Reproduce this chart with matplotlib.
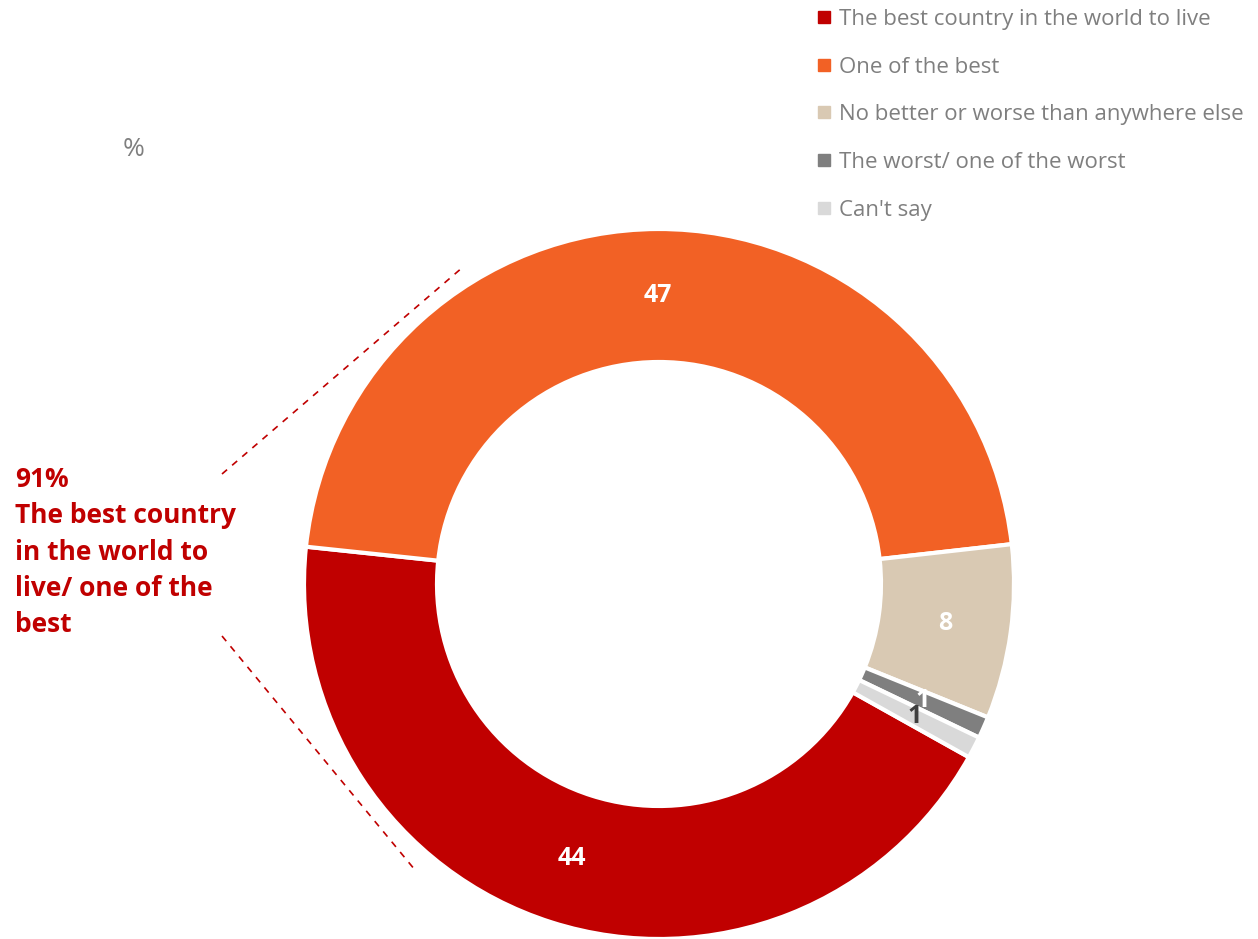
import numpy as np
import matplotlib
matplotlib.use('Agg')
import matplotlib.pyplot as plt

plt.rcParams['font.family'] = ['Open Sans', 'DejaVu Sans']

# Data
categories = [
    'The best country in the world to live',
    'One of the best',
    'No better or worse than anywhere else',
    'The worst/ one of the worst',
    "Can't say",
]
values = [44, 47, 8, 1, 1]
colors = ['#C00000', '#F26125', '#D9C9B3', '#7F7F7F', '#D9D9D9']
label_colors = ['white', 'white', 'white', 'white', '#404040']

W, H = 1258, 939
fig = plt.figure(figsize=(W / 100, H / 100), dpi=100)
ax = fig.add_axes([0, 0, 1, 1])

cx, cy, r_out = 659, H - 584, 355
width = 133

wedges, _ = ax.pie(
    values, colors=colors, startangle=-29.2, counterclock=False,
    radius=r_out, center=(cx, cy),
    wedgeprops=dict(width=width, edgecolor='white', linewidth=3),
    frame=True,
)
ax.set_xlim(0, W)
ax.set_ylim(0, H)
ax.axis('off')

# Value labels at the middle of each ring segment
r_mid = r_out - width / 2
for w, v, lc in zip(wedges, values, label_colors):
    ang = np.deg2rad((w.theta1 + w.theta2) / 2)
    ax.text(cx + r_mid * np.cos(ang), cy + r_mid * np.sin(ang), str(v),
            ha='center', va='center', color=lc, fontsize=18, fontweight='bold')

# Legend
handles = [plt.Line2D([], [], marker='s', linestyle='', markersize=8,
                      markerfacecolor=c, markeredgecolor=c) for c in colors]
fig.legend(handles, categories, loc='upper left', bbox_to_anchor=(810 / W, 1.0),
           frameon=False, fontsize=16, labelcolor='#7F7F7F',
           handlelength=0.5, handletextpad=0.4, labelspacing=1.2,
           borderaxespad=0.0)

# Unit marker
ax.text(134, H - 150, '%', ha='center', va='center', color='#7F7F7F', fontsize=19)

# Callout for combined share
ax.text(15, H - 552, '91%\nThe best country\nin the world to\nlive/ one of the\nbest',
        ha='left', va='center', color='#C00000', fontsize=19, fontweight='bold',
        linespacing=1.45)
ax.plot([222, 463], [H - 474, H - 267], color='#C00000', linestyle=(0, (4, 4)), lw=1.2)
ax.plot([222, 415], [H - 636, H - 870], color='#C00000', linestyle=(0, (4, 4)), lw=1.2)

fig.savefig('out.png', dpi=100)
